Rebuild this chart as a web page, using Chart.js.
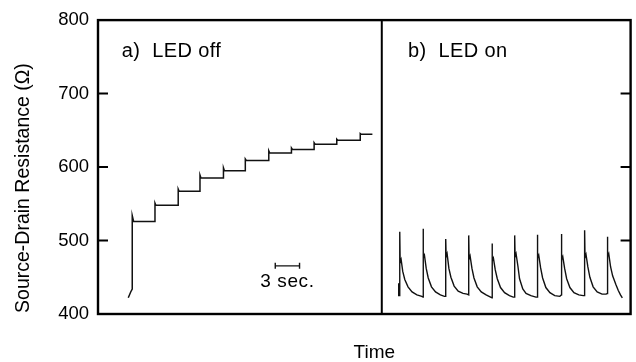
<!DOCTYPE html>
<html>
<head>
<meta charset="utf-8">
<script src="https://cdn.jsdelivr.net/npm/chart.js@4.4.1/dist/chart.umd.min.js"></script>
<style>
  html, body { margin: 0; padding: 0; background: #fff; }
  #wrap { width: 636px; height: 362px; position: relative; }
</style>
</head>
<body>
<div id="wrap"><canvas id="c" width="636" height="362"></canvas></div>
<script>
// Time axis in seconds; both panels share one time axis split at panelSplit.
const timeRange = [0, 65.8];
const panelSplit = 35.06;
const yRange = [400, 800];
const yTickValues = [400, 500, 600, 700, 800];
const innerTickValues = [500, 600, 700];

const panelLabels = ['a)  LED off', 'b)  LED on'];
const panelLabelPos = [[2.92, 757], [38.3, 757]];
const yTitle = 'Source-Drain Resistance (\u03A9)';
const xTitle = 'Time';

// 3-second scale bar and its caption
const scaleBar = [[21.9, 465.6], [24.9, 465.6]];
const scaleBarText = '3 sec.';
const scaleBarTextPos = [23.4, 444];

// a) LED off: staircase rise of the resistance
const ledOffTrace = [
  [3.74, 422], [4.04, 430], [4.23, 434], [4.23, 534], [4.40, 526],
  [7.04, 526], [7.04, 551], [7.15, 548],
  [9.91, 548], [9.91, 570], [10.02, 567],
  [12.60, 567], [12.60, 589], [12.72, 585],
  [15.50, 585], [15.50, 599], [15.62, 595],
  [18.20, 595], [18.20, 611], [18.32, 609],
  [21.10, 609], [21.10, 622], [21.22, 619],
  [23.90, 619], [23.90, 626], [24.02, 624],
  [26.70, 624], [26.70, 633], [26.82, 631],
  [29.50, 631], [29.50, 638], [29.62, 636.5],
  [32.40, 636.5], [32.40, 645.5], [32.52, 644.5],
  [33.90, 644.5]
];

// b) LED on: repeated spikes relaxing back to the baseline
const ledOnTrace = [
  [37.15, 442], [37.15, 425], [37.28, 425],
  [37.28, 512], [37.33, 470], [37.45, 474], [37.65, 458], [37.90, 447], [38.30, 437], [38.80, 430], [39.40, 426], [40.00, 424],
  [40.16, 423], [40.16, 516], [40.21, 476], [40.33, 480], [40.55, 462], [40.80, 449], [41.20, 437], [41.70, 430], [42.30, 426], [42.80, 424],
  [42.96, 424], [42.96, 502], [43.01, 478], [43.13, 482], [43.35, 462], [43.60, 450], [44.00, 438], [44.50, 431], [45.10, 428], [45.60, 427],
  [45.80, 426], [45.80, 507], [45.85, 475], [45.97, 479], [46.20, 462], [46.45, 449], [46.85, 437], [47.35, 430], [47.95, 426], [48.50, 423],
  [48.68, 422], [48.68, 496], [48.73, 472], [48.85, 476], [49.08, 460], [49.33, 448], [49.73, 436], [50.23, 429], [50.83, 425], [51.30, 423],
  [51.48, 423], [51.48, 507], [51.53, 478], [51.65, 482], [51.88, 465], [52.08, 448], [52.48, 434], [52.88, 428], [53.48, 425], [54.10, 423],
  [54.28, 423], [54.28, 508], [54.33, 476], [54.45, 480], [54.68, 463], [54.93, 449], [55.33, 436], [55.83, 429], [56.43, 425], [57.05, 424],
  [57.25, 426], [57.25, 509], [57.30, 474], [57.42, 478], [57.65, 462], [57.90, 448], [58.30, 436], [58.80, 429], [59.40, 426], [59.95, 425],
  [60.12, 425], [60.12, 514], [60.17, 477], [60.29, 481], [60.52, 464], [60.77, 450], [61.17, 437], [61.67, 430], [62.27, 427], [62.78, 427],
  [62.93, 428], [62.93, 505], [62.98, 478], [63.10, 482], [63.33, 464], [63.58, 452], [63.98, 440], [64.28, 432], [64.55, 426], [64.78, 422]
];

const FONT = '"Liberation Sans", Arial, Helvetica, sans-serif';

const framePlugin = {
  id: 'panelFrame',
  afterDatasetsDraw(chart) {
    const { ctx, chartArea: a, scales: { x, y } } = chart;
    ctx.save();
    ctx.strokeStyle = '#000';
    // outer box
    ctx.lineWidth = 2.4;
    ctx.strokeRect(a.left, a.top, a.right - a.left, a.bottom - a.top);
    // panel divider
    const xd = x.getPixelForValue(panelSplit);
    ctx.lineWidth = 2;
    ctx.beginPath();
    ctx.moveTo(xd, a.top);
    ctx.lineTo(xd, a.bottom);
    ctx.stroke();
    // inward tick marks on both outer sides
    ctx.lineWidth = 2;
    innerTickValues.forEach(v => {
      const py = y.getPixelForValue(v);
      ctx.beginPath();
      ctx.moveTo(a.left, py); ctx.lineTo(a.left + 10, py);
      ctx.moveTo(a.right - 10, py); ctx.lineTo(a.right, py);
      ctx.stroke();
    });
    // panel labels
    ctx.fillStyle = '#000';
    ctx.textBaseline = 'middle';
    ctx.textAlign = 'left';
    ctx.font = '20px ' + FONT;
    ctx.letterSpacing = '0.4px';
    panelLabels.forEach((t, i) => {
      ctx.fillText(t, x.getPixelForValue(panelLabelPos[i][0]), y.getPixelForValue(panelLabelPos[i][1]));
    });
    // scale bar caption
    ctx.textAlign = 'center';
    ctx.font = '19px ' + FONT;
    ctx.letterSpacing = '0.6px';
    ctx.fillText(scaleBarText, x.getPixelForValue(scaleBarTextPos[0]), y.getPixelForValue(scaleBarTextPos[1]));
    // axis titles
    ctx.letterSpacing = '0px';
    ctx.font = '19px ' + FONT;
    ctx.fillText(xTitle, (a.left + a.right) / 2 + 10, a.bottom + 39);
    ctx.save();
    ctx.translate(24, (a.top + a.bottom) / 2 + 21);
    ctx.rotate(-Math.PI / 2);
    ctx.font = '19.5px ' + FONT;
    ctx.fillText(yTitle, 0, 0);
    ctx.restore();
    ctx.restore();
  }
};

const toPts = arr => arr.map(p => ({ x: p[0], y: p[1] }));

new Chart(document.getElementById('c'), {
  type: 'scatter',
  data: {
    datasets: [
      { data: toPts(ledOffTrace), showLine: true, borderColor: '#111', borderWidth: 1.5, pointRadius: 0, tension: 0 },
      { data: toPts(ledOnTrace), showLine: true, borderColor: '#111', borderWidth: 1.4, pointRadius: 0, tension: 0 },
      { data: toPts(scaleBar), showLine: true, borderColor: '#111', borderWidth: 1.2,
        pointStyle: 'line', rotation: 90, pointRadius: 3, pointBorderWidth: 1.4, pointBorderColor: '#111' }
    ]
  },
  options: {
    responsive: false,
    animation: false,
    events: [],
    layout: { padding: { top: 20, right: 5, bottom: 48, left: 0 } },
    plugins: { legend: { display: false }, tooltip: { enabled: false }, title: { display: false } },
    scales: {
      x: { type: 'linear', min: timeRange[0], max: timeRange[1], display: false },
      y: {
        type: 'linear', min: yRange[0], max: yRange[1],
        afterBuildTicks: s => { s.ticks = yTickValues.map(v => ({ value: v })); },
        afterFit: s => { s.width = 98; },
        grid: { display: false, drawTicks: false },
        border: { display: false },
        ticks: { color: '#000', padding: 9, font: { family: FONT, size: 18.5 } }
      }
    }
  },
  plugins: [framePlugin]
});
</script>
</body>
</html>
